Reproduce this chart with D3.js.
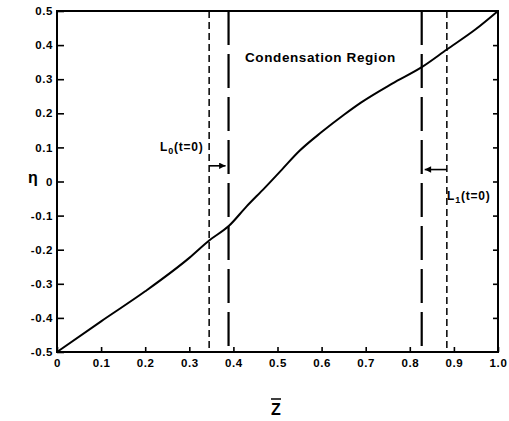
<!DOCTYPE html>
<html>
<head>
<meta charset="utf-8">
<script src="https://cdn.jsdelivr.net/npm/d3@7"></script>
<style>
  body { margin: 0; background: #fff; }
  svg { font-family: "Liberation Sans", Arial, sans-serif; font-weight: bold; }
  .axis path { display: none; }
  .axis line { stroke: #000; stroke-width: 1.6; }
  .axis text { font-size: 11.5px; font-weight: bold; fill: #000; letter-spacing: 0.6px; }
</style>
</head>
<body>
<div id="main"></div>
<script>
const w = 509, h = 421;
const margin = { top: 11, right: 11, bottom: 69, left: 57 };

// curve eta vs z-bar
const zVals   = [0, 0.1, 0.2, 0.3, 0.345, 0.39, 0.43, 0.47, 0.51, 0.55, 0.6, 0.65, 0.69, 0.76, 0.828, 0.884, 0.95, 1.0];
const etaVals = [-0.5, -0.41, -0.322, -0.224, -0.173, -0.13, -0.073, -0.02, 0.035, 0.09, 0.145, 0.195, 0.232, 0.287, 0.336, 0.387, 0.447, 0.5];

// vertical boundaries
const shortDashZ = [0.345, 0.884];   // L0(t=0), L1(t=0)
const longDashZ  = [0.389, 0.827];   // condensation region

const xTicks = [0, 0.1, 0.2, 0.3, 0.4, 0.5, 0.6, 0.7, 0.8, 0.9, 1.0];
const xTickLabels = ['0', '0.1', '0.2', '0.3', '0.4', '0.5', '0.6', '0.7', '0.8', '0.9', '1.0'];
const yTicks = [0.5, 0.4, 0.3, 0.2, 0.1, 0, -0.1, -0.2, -0.3, -0.4, -0.5];
const yTickLabels = ['0.5', '0.4', '0.3', '0.2', '0.1', '0', '-0.1', '-0.2', '-0.3', '-0.4', '-0.5'];

const svg = d3.select('#main')
  .append('svg')
  .attr('width', w)
  .attr('height', h);

const x = d3.scaleLinear().domain([0, 1]).range([margin.left, w - margin.right]);
const y = d3.scaleLinear().domain([-0.5, 0.5]).range([h - margin.bottom, margin.top]);

// axes, ticks pointing inward
svg.append('g')
  .attr('class', 'axis')
  .attr('transform', 'translate(0,' + (h - margin.bottom) + ')')
  .call(d3.axisBottom(x).tickValues(xTicks).tickSize(-5).tickPadding(7)
    .tickFormat((d, i) => xTickLabels[i]));

svg.append('g')
  .attr('class', 'axis')
  .attr('transform', 'translate(' + margin.left + ',0)')
  .call(d3.axisLeft(y).tickValues(yTicks).tickSize(-7).tickPadding(4)
    .tickFormat((d, i) => yTickLabels[i]));

svg.append('g')
  .attr('class', 'axis')
  .attr('transform', 'translate(' + (w - margin.right) + ',0)')
  .call(d3.axisRight(y).tickValues(yTicks.slice(1, -1)).tickSize(-5).tickFormat(''));

// frame
svg.append('rect')
  .attr('x', x(0)).attr('y', y(0.5))
  .attr('width', x(1) - x(0)).attr('height', y(-0.5) - y(0.5))
  .attr('fill', 'none').attr('stroke', '#000').attr('stroke-width', 2);

// dashed boundaries
svg.selectAll('.short')
  .data(shortDashZ).enter()
  .append('line')
  .attr('x1', d => x(d)).attr('x2', d => x(d))
  .attr('y1', y(0.5)).attr('y2', y(-0.5))
  .attr('stroke', '#000').attr('stroke-width', 1.5)
  .attr('stroke-dasharray', '7,4');

svg.selectAll('.long')
  .data(longDashZ).enter()
  .append('line')
  .attr('x1', d => x(d)).attr('x2', d => x(d))
  .attr('y1', y(0.5)).attr('y2', y(-0.5))
  .attr('stroke', '#000').attr('stroke-width', 2.2)
  .attr('stroke-dasharray', '34,9');

// the curve
const line = d3.line().curve(d3.curveMonotoneX).x((d, i) => x(d)).y((d, i) => y(etaVals[i]));
svg.append('path')
  .attr('d', line(zVals))
  .attr('fill', 'none')
  .attr('stroke', '#000')
  .attr('stroke-width', 2);

// arrows
svg.append('defs').append('marker')
  .attr('id', 'head')
  .attr('viewBox', '0 0 10 10')
  .attr('refX', 10).attr('refY', 5)
  .attr('markerWidth', 5).attr('markerHeight', 4)
  .attr('orient', 'auto')
  .append('path').attr('d', 'M0,0 L10,5 L0,10 z').attr('fill', '#000');

svg.append('line')
  .attr('x1', x(shortDashZ[0])).attr('x2', x(longDashZ[0]) - 3)
  .attr('y1', y(0.046)).attr('y2', y(0.046))
  .attr('stroke', '#000').attr('stroke-width', 1.6)
  .attr('marker-end', 'url(#head)');

svg.append('line')
  .attr('x1', x(shortDashZ[1])).attr('x2', x(longDashZ[1]) + 3)
  .attr('y1', y(0.035)).attr('y2', y(0.035))
  .attr('stroke', '#000').attr('stroke-width', 1.6)
  .attr('marker-end', 'url(#head)');

// labels
svg.append('text')
  .text('Condensation Region')
  .attr('x', 245).attr('y', 62)
  .attr('font-size', 13.5)
  .attr('letter-spacing', 0.6);

const l0 = svg.append('text').attr('x', 160).attr('y', 151)
  .attr('font-size', 12).attr('letter-spacing', 0.8);
l0.append('tspan').text('L');
l0.append('tspan').text('0').attr('font-size', 9).attr('dy', 3);
l0.append('tspan').text('(t=0)').attr('dy', -3);

const l1 = svg.append('text').attr('x', 447).attr('y', 200)
  .attr('font-size', 12).attr('letter-spacing', 0.8);
l1.append('tspan').text('L');
l1.append('tspan').text('1').attr('font-size', 9).attr('dy', 3);
l1.append('tspan').text('(t=0)').attr('dy', -3);

svg.append('text')
  .text('η')
  .attr('x', 33).attr('y', 183)
  .attr('text-anchor', 'middle')
  .attr('font-size', 16);

svg.append('text')
  .text('Z')
  .attr('x', 276).attr('y', 415)
  .attr('text-anchor', 'middle')
  .attr('font-size', 16);
svg.append('line')
  .attr('x1', 271).attr('x2', 281)
  .attr('y1', 399).attr('y2', 399)
  .attr('stroke', '#000').attr('stroke-width', 1.5);
</script>
</body>
</html>
